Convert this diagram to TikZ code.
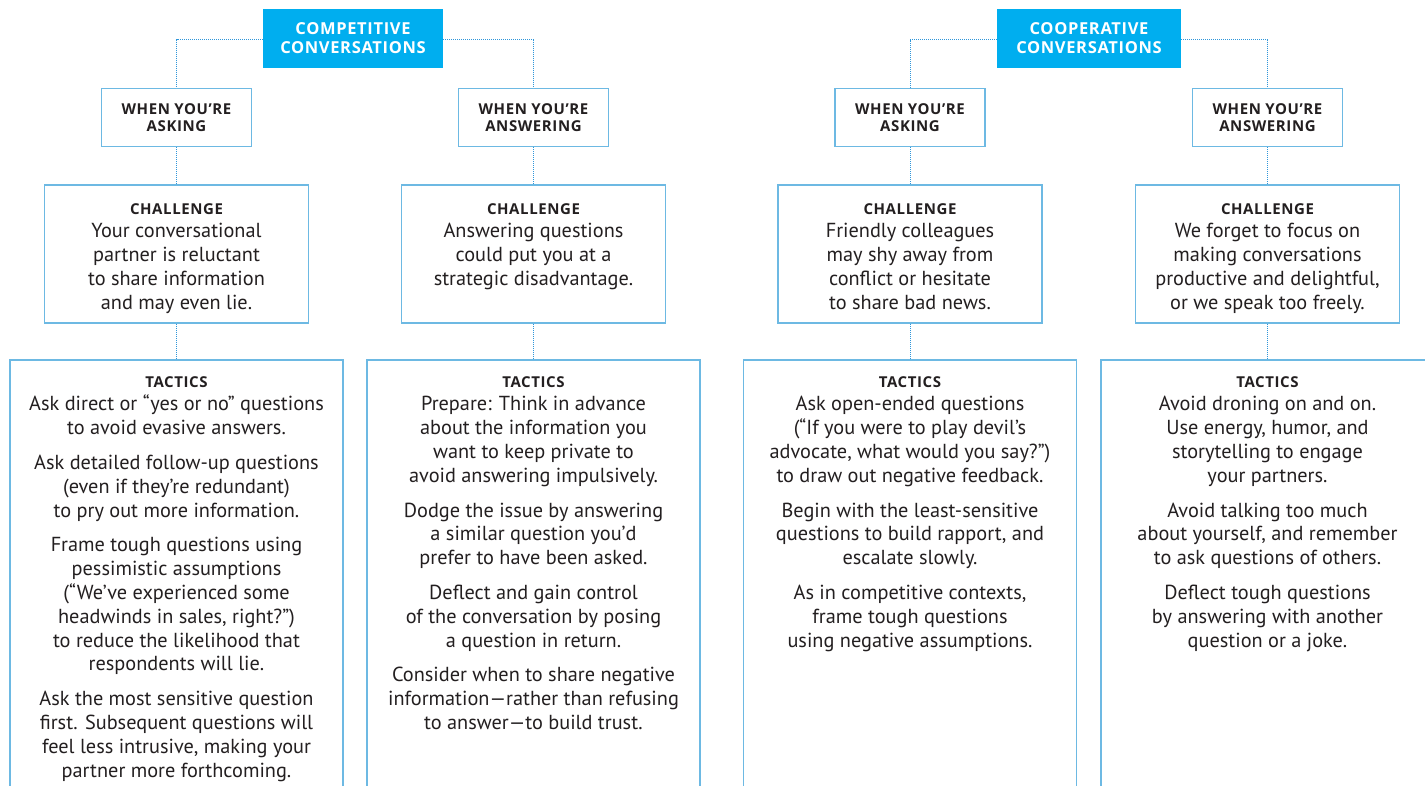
\documentclass[tikz,border=0pt]{standalone}
\usepackage{fontspec}
\setmainfont{PT Sans}
\newfontfamily\hdfont{Open Sans}[LetterSpace=4.0]
\definecolor{hdr}{HTML}{00AEEF}
\definecolor{bord}{HTML}{6DB9E3}
\definecolor{conn}{HTML}{2F96DA}
\definecolor{ink}{HTML}{231F20}
\tikzset{
  hdrbox/.style={fill=hdr, draw=none, minimum height=59pt, inner sep=0pt, text=white,
    font=\hdfont\bfseries\fontsize{16.5}{19}\selectfont, align=center},
  whenbox/.style={draw=bord, line width=1.6pt, fill=white, minimum width=150pt, minimum height=58pt,
    inner sep=0pt, text=ink, font=\hdfont\bfseries\fontsize{15}{17}\selectfont, align=center},
  chalbox/.style={draw=bord, line width=1.6pt, minimum width=264pt, minimum height=138pt, inner sep=0pt},
  tacbox/.style={draw=bord, line width=1.6pt, minimum width=333pt, minimum height=460pt, inner sep=0pt, anchor=north},
  bodytext/.style={anchor=north, inner sep=0pt, align=center, text=ink,
    font=\fontsize{20.3}{23.8}\selectfont},
  connline/.style={draw=conn, line width=1pt, dash pattern=on 1pt off 1pt},
}
\newcommand{\hd}[1]{{\hdfont\bfseries\fontsize{15}{23.8}\selectfont #1}}
\begin{document}
\begin{tikzpicture}[x=1pt,y=-1pt]
\clip (0,0) rectangle (1425,786);
\fill[white] (0,0) rectangle (1425,786);

% headers
\node[hdrbox, minimum width=180pt] (h1) at (353,38.5) {COMPETITIVE\\CONVERSATIONS};
\node[hdrbox, minimum width=184pt] (h2) at (1089,38.5) {COOPERATIVE\\CONVERSATIONS};

% when boxes
\node[whenbox] (w1) at (176.5,117.5) {WHEN YOU’RE\\ASKING};
\node[whenbox] (w2) at (533.5,117.5) {WHEN YOU’RE\\ANSWERING};
\node[whenbox] (w3) at (910,117.5) {WHEN YOU’RE\\ASKING};
\node[whenbox] (w4) at (1267.5,117.5) {WHEN YOU’RE\\ANSWERING};

% challenge boxes
\node[chalbox] (c1) at (176.5,254) {};
\node[chalbox] (c2) at (533.5,254) {};
\node[chalbox] (c3) at (910,254) {};
\node[chalbox] (c4) at (1267.5,254) {};

% tactics boxes
\node[tacbox] (t1) at (176.5,359) {};
\node[tacbox] (t2) at (533.5,359) {};
\node[tacbox] (t3) at (910,359) {};
\node[tacbox] (t4) at (1267.5,359) {};

% connectors
\draw[connline] (h1.west |- 0,40) -| (w1.north);
\draw[connline] (h1.east |- 0,40) -| (w2.north);
\draw[connline] (h2.west |- 0,40) -| (w3.north);
\draw[connline] (h2.east |- 0,40) -| (w4.north);
\foreach \i in {1,2,3,4}{
  \draw[connline] (w\i.south) -- (c\i.north);
  \draw[connline] (c\i.south) -- (t\i.north);
}

% challenge texts
\node[bodytext] (ct1) at (176.5,203) {\hd{CHALLENGE}\\Your conversational\\partner is reluctant\\to share information\\and may even lie.};
\node[bodytext] (ct2) at (533.5,203) {\hd{CHALLENGE}\\Answering questions\\could put you at a\\strategic disadvantage.};
\node[bodytext] (ct3) at (910,203) {\hd{CHALLENGE}\\Friendly colleagues\\may shy away from\\conflict or hesitate\\to share bad news.};
\node[bodytext] (ct4) at (1267.5,203) {\hd{CHALLENGE}\\We forget to focus on\\making conversations\\productive and delightful,\\or we speak too freely.};

% tactics texts
\node[bodytext] (tt1) at (176.5,376) {\hd{TACTICS}\\Ask direct or “yes or no” questions\\to avoid evasive answers.\\[11pt]
Ask detailed follow-up questions\\(even if they’re redundant)\\to pry out more information.\\[11pt]
Frame tough questions using\\pessimistic assumptions\\(“We’ve experienced some\\headwinds in sales, right?”)\\to reduce the likelihood that\\respondents will lie.\\[11pt]
Ask the most sensitive question\\first. Subsequent questions will\\feel less intrusive, making your\\partner more forthcoming.};

\node[bodytext] (tt2) at (533.5,376) {\hd{TACTICS}\\Prepare: Think in advance\\about the information you\\want to keep private to\\avoid answering impulsively.\\[11pt]
Dodge the issue by answering\\a similar question you’d\\prefer to have been asked.\\[11pt]
Deflect and gain control\\of the conversation by posing\\a question in return.\\[11pt]
Consider when to share negative\\information—rather than refusing\\to answer—to build trust.};

\node[bodytext] (tt3) at (910,376) {\hd{TACTICS}\\Ask open-ended questions\\(“If you were to play devil’s\\advocate, what would you say?”)\\to draw out negative feedback.\\[11pt]
Begin with the least-sensitive\\questions to build rapport, and\\escalate slowly.\\[11pt]
As in competitive contexts,\\frame tough questions\\using negative assumptions.};

\node[bodytext] (tt4) at (1267.5,376) {\hd{TACTICS}\\Avoid droning on and on.\\Use energy, humor, and\\storytelling to engage\\your partners.\\[11pt]
Avoid talking too much\\about yourself, and remember\\to ask questions of others.\\[11pt]
Deflect tough questions\\by answering with another\\question or a joke.};
\end{tikzpicture}
\end{document}
